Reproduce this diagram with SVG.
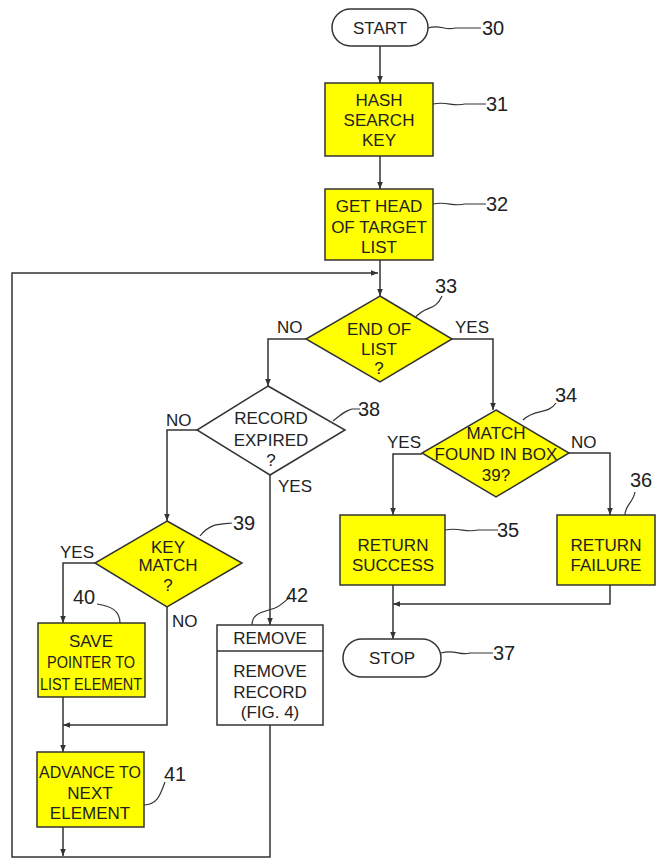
<svg xmlns="http://www.w3.org/2000/svg" width="657" height="859" viewBox="0 0 657 859">
<style>
.box{fill:#ffff00;stroke:#333;stroke-width:1.5}
.wbox{fill:#fff;stroke:#333;stroke-width:1.5}
.t{font-family:"Liberation Sans",Arial,sans-serif;font-size:17px;fill:#222;text-anchor:middle}
.n{font-family:"Liberation Sans",Arial,sans-serif;font-size:20px;fill:#222}
.l{font-family:"Liberation Sans",Arial,sans-serif;font-size:17px;fill:#222}
.c{fill:none;stroke:#333;stroke-width:1.5}
.ld{fill:none;stroke:#333;stroke-width:1.2}
</style>
<defs>
<marker id="a" viewBox="0 0 10 10" refX="10" refY="5" markerWidth="7" markerHeight="7" orient="auto" markerUnits="userSpaceOnUse">
<path d="M0,1 L10,5 L0,9 z" fill="#333"/>
</marker>
</defs>
<g id="connectors">
<path class="c" d="M380,46 V83" marker-end="url(#a)"/>
<path class="c" d="M380,156 V189" marker-end="url(#a)"/>
<path class="c" d="M380,260 V296" marker-end="url(#a)"/>
<path class="c" d="M306,339 H268 V386" marker-end="url(#a)"/>
<path class="c" d="M452,339 H493 V410" marker-end="url(#a)"/>
<path class="c" d="M197,430 H167 V521" marker-end="url(#a)"/>
<path class="c" d="M270,475 V625" marker-end="url(#a)"/>
<path class="c" d="M95,563 H63 V623" marker-end="url(#a)"/>
<path class="c" d="M167,607 V725 H63" marker-end="url(#a)"/>
<path class="c" d="M63,697 V752" marker-end="url(#a)"/>
<path class="c" d="M63,827 V856" marker-end="url(#a)"/>
<path class="c" d="M270,725 V857 H12 V273 H378" marker-end="url(#a)"/>
<path class="c" d="M422,454 H393 V515" marker-end="url(#a)"/>
<path class="c" d="M569,453 H610 V515" marker-end="url(#a)"/>
<path class="c" d="M393,585 V639" marker-end="url(#a)"/>
<path class="c" d="M610,585 V604 H393" marker-end="url(#a)"/>
<text class="l" x="277" y="333">NO</text>
<text class="l" x="455" y="333">YES</text>
<text class="l" x="166" y="426">NO</text>
<text class="l" x="278" y="492">YES</text>
<text class="l" x="60" y="558">YES</text>
<text class="l" x="172" y="627">NO</text>
<text class="l" x="387" y="448">YES</text>
<text class="l" x="571" y="448">NO</text>
</g>
<g id="n30">
<rect x="332" y="9" width="96" height="37" rx="18.5" class="wbox"/>
<text class="t" x="380" y="34">START</text>
<path class="ld" d="M428,28 C440,24 445,31 455,28 L481,28"/>
<text class="n" x="482" y="35">30</text>
</g>
<g id="n31">
<rect x="325" y="83" width="108" height="73" class="box"/>
<text class="t" x="379" y="106">HASH</text>
<text class="t" x="379" y="126">SEARCH</text>
<text class="t" x="379" y="146">KEY</text>
<path class="ld" d="M433,104 C448,101 452,107 465,104 L486,104"/>
<text class="n" x="486" y="111">31</text>
</g>
<g id="n32">
<rect x="325" y="189" width="108" height="71" class="box"/>
<text class="t" x="379" y="212">GET HEAD</text>
<text class="t" x="379" y="233">OF TARGET</text>
<text class="t" x="379" y="253">LIST</text>
<path class="ld" d="M433,204 C448,201 452,207 465,204 L486,204"/>
<text class="n" x="486" y="211">32</text>
</g>
<g id="n33">
<path d="M380,296 L452,339 L380,382 L306,339 Z" class="box"/>
<text class="t" x="379" y="335">END OF</text>
<text class="t" x="379" y="355">LIST</text>
<text class="t" x="379" y="374">?</text>
<path class="ld" d="M415,318 C425,305 435,312 442,296"/>
<text class="n" x="435" y="293">33</text>
</g>
<g id="n38">
<path d="M268,386 L345,430 L270,475 L197,430 Z" class="wbox"/>
<text class="t" x="271" y="424">RECORD</text>
<text class="t" x="271" y="446">EXPIRED</text>
<text class="t" x="271" y="466">?</text>
<path class="ld" d="M333,421 C343,413 347,410 352,409 L360,409"/>
<text class="n" x="358" y="416">38</text>
</g>
<g id="n34">
<path d="M496,410 L569,453 L496,497 L422,453 Z" class="box"/>
<text class="t" x="496" y="439">MATCH</text>
<text class="t" x="496" y="460">FOUND IN BOX</text>
<text class="t" x="496" y="481">39?</text>
<path class="ld" d="M523,420 C535,408 548,415 556,403"/>
<text class="n" x="555" y="402">34</text>
</g>
<g id="n35">
<rect x="340" y="515" width="105" height="70" class="box"/>
<text class="t" x="393" y="551">RETURN</text>
<text class="t" x="393" y="571">SUCCESS</text>
<path class="ld" d="M445,530 C460,527 465,533 478,530 L498,530"/>
<text class="n" x="497" y="537">35</text>
</g>
<g id="n36">
<rect x="557" y="515" width="98" height="70" class="box"/>
<text class="t" x="606" y="551">RETURN</text>
<text class="t" x="606" y="571">FAILURE</text>
<path class="ld" d="M625,515 C625,505 633,503 635,492"/>
<text class="n" x="630" y="487">36</text>
</g>
<g id="n37">
<rect x="343" y="639" width="98" height="38" rx="19" class="wbox"/>
<text class="t" x="392" y="664">STOP</text>
<path class="ld" d="M441,653 C455,649 460,656 470,653 L493,653"/>
<text class="n" x="493" y="660">37</text>
</g>
<g id="n39">
<path d="M167,521 L242,563 L167,607 L95,563 Z" class="box"/>
<text class="t" x="168" y="553">KEY</text>
<text class="t" x="168" y="571">MATCH</text>
<text class="t" x="168" y="591">?</text>
<path class="ld" d="M200,536 C210,523 220,524 232,523"/>
<text class="n" x="233" y="530">39</text>
</g>
<g id="n40">
<rect x="38" y="623" width="107" height="74" class="box"/>
<text class="t" x="91" y="647">SAVE</text>
<text class="t" x="91" y="668" textLength="88" lengthAdjust="spacingAndGlyphs">POINTER TO</text>
<text class="t" x="91" y="690" textLength="102" lengthAdjust="spacingAndGlyphs">LIST ELEMENT</text>
<path class="ld" d="M120,623 C120,610 110,606 97,604"/>
<text class="n" x="73" y="604">40</text>
</g>
<g id="n41">
<rect x="37" y="752" width="107" height="75" class="box"/>
<text class="t" x="90" y="778" textLength="102" lengthAdjust="spacingAndGlyphs">ADVANCE TO</text>
<text class="t" x="90" y="799">NEXT</text>
<text class="t" x="90" y="819">ELEMENT</text>
<path class="ld" d="M144,805 C158,804 160,795 165,782"/>
<text class="n" x="164" y="781">41</text>
</g>
<g id="n42">
<rect x="217" y="625" width="106" height="100" class="wbox"/>
<line x1="217" y1="651" x2="323" y2="651" class="c"/>
<text class="t" x="270" y="644">REMOVE</text>
<text class="t" x="270" y="677">REMOVE</text>
<text class="t" x="270" y="698">RECORD</text>
<text class="t" x="270" y="718">(FIG. 4)</text>
<path class="ld" d="M252,625 C252,612 265,612 275,608 C282,605 286,600 290,597"/>
<text class="n" x="286" y="602">42</text>
</g>
</svg>
